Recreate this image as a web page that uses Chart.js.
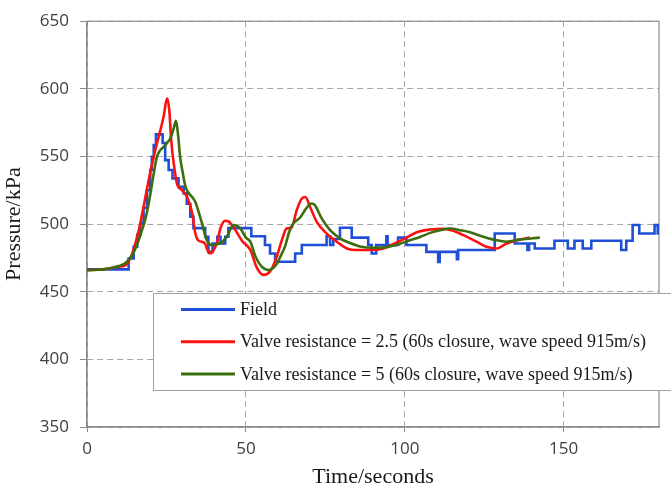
<!DOCTYPE html>
<html>
<head>
<meta charset="utf-8">
<script src="https://cdn.jsdelivr.net/npm/chart.js@4"></script>
<style>
  html, body { margin: 0; padding: 0; background: #fff; }
  #wrap { width: 671px; height: 488px; position: relative; }
</style>
</head>
<body>
<div id="wrap"><canvas id="pressureChart"></canvas></div>
<script>

// ---------------------------------------------------------------
//   data (time in s, pressure in kPa)
// ---------------------------------------------------------------

const seriesLabels = [
    'Field',
    'Valve resistance = 2.5 (60s closure, wave speed 915m/s)',
    'Valve resistance = 5 (60s closure, wave speed 915m/s)'
];

const xTicks = [0, 50, 100, 150];
const yTicks = [350, 400, 450, 500, 550, 600, 650];

// field record, each point starts a step
const fieldTime = [
    0, 13.1, 14.7, 15.8, 16.8, 17.8, 18.9, 19.9, 20.4, 21, 21.7, 23.8, 24.6, 25.7,
    26.9, 28.8, 30.4, 31.4, 32.5, 33.5, 37.2, 38.2, 39.5, 41, 42, 43.5, 44.5, 51.7,
    56, 57.6, 59.2, 65.5, 67.6, 75.4, 76.5, 77.5, 79.6, 83.3, 88.5, 89.6, 91, 94.2,
    94.6, 97.9, 100.5, 106.8, 110.5, 111, 116.4, 116.8, 128.3, 134.6, 138.6, 139.1,
    140.9, 147.1, 151.3, 153.4, 156, 158.7, 168.1, 169.7, 171.7, 173.8, 178.6, 179.6, 180
];
const fieldPressure = [
    466.5, 474.6, 483.3, 492, 500.5, 512, 525, 540, 549.7, 558.4, 566.3, 560, 547.3, 540,
    533.8, 527.6, 522.7, 515, 505.4, 497, 490.6, 479.5, 485.7, 490.6, 485.7, 490.6, 497, 491,
    484.5, 478.3, 472.2, 478.3, 484.5, 491, 484.5, 489, 497.3, 490, 484.5, 478.3, 484.5, 491,
    484.5, 490, 484.5, 479.5, 472, 479.5, 474, 480.8, 493, 485.7, 480.8, 485.7,
    482, 487.7, 482, 487.7, 482, 487.7, 480.8, 487.7, 499.3, 493, 499.3, 493, 493
];

// model, valve resistance 2.5
const r25Time = [
    0, 5, 10, 12.3, 14.2, 16.3, 17.8, 19.4, 21, 22, 23.1, 24.1, 25.2, 25.9, 26.5,
    27.3, 28.3, 29.9, 31.5, 33.1, 34.1, 35, 37, 38.5, 39.5, 41, 42, 43.5, 44.5, 46,
    49, 51.4, 53.4, 55.5, 57.6, 59.7, 61.3, 62.8, 64.4, 66, 67.6, 68.7, 70.2, 72.3,
    75.4, 78.6, 81.8, 84.9, 89.1, 93.3, 97.5, 100.6, 103.8, 108, 112.2, 115.3, 118.4,
    122.6, 125.7, 128.9, 132, 136.2, 139.3
];
const r25Pressure = [
    466, 466.5, 468.5, 470, 478, 495.6, 512.8, 532.5, 549.7, 559.6, 569.5, 579.3, 593, 584, 562,
    544.8, 530, 525, 520, 508, 493, 488, 486, 478.5, 479.5, 487, 497, 502.5, 502, 498,
    487, 481, 468, 462.5, 465, 475.8, 488, 496.7, 497.5, 510.3, 518.9, 520, 512.7, 501.6,
    493, 487, 482, 480.8, 480.8, 482, 486.5, 490, 494, 496, 496.5, 495, 491.8,
    487, 483.3, 482, 485.7, 488.6, 490
];

// model, valve resistance 5
const r5Time = [
    0, 5, 10, 12, 14.2, 15.8, 17.3, 18.4, 19.4, 20.2, 21, 22, 23, 24.1, 25.2, 26.2,
    27.2, 28, 28.7, 29.3, 30.2, 31, 32, 33.1, 34.1, 35, 36.2, 37.7, 39.3, 41.9, 44,
    46.1, 48.2, 50, 51.4, 53, 55, 57.1, 59.7, 60.8, 62.3, 63.6, 64.9, 67, 69.1, 70.7,
    71.7, 73.9, 76.5, 79.6, 82.8, 85.9, 90.1, 94.3, 98.5, 101.6, 104.8, 108, 111.1,
    114.2, 117.4, 120.5, 124.7, 128.9, 132, 136.2, 142.5
];
const r5Pressure = [
    466, 466.5, 469, 471, 477, 485, 495.6, 504, 515, 526, 537.4, 549.7, 554.5, 557, 560, 563.3,
    570, 576.3, 565, 549.7, 537, 527.6, 523, 520, 516.4, 510, 500.5, 488, 484.5, 485.7, 490.6,
    499.3, 497, 490, 487, 476, 468.5, 466, 470.5, 475.8, 483.3, 494, 500.5, 504.7, 512, 515.2,
    514, 504, 495.5, 489.4, 486, 483.5, 482.5, 483, 485.5, 488, 490.5, 493.5, 495.5,
    496.8, 495.5, 494, 490.7, 488, 487, 488.5, 490
];

const seriesColors = ['#1f4fd6', '#ff1010', '#3b6e0c'];

// ---------------------------------------------------------------

function toPoints(xs, ys) {
    return xs.map((x, i) => ({ x: x, y: ys[i] }));
}

const tickFont = { family: '"Open Sans", "Liberation Sans", sans-serif', size: 17 };
const serifFamily = '"Liberation Serif", "DejaVu Serif", serif';
const gridGray = '#a6a6a6';

// solid box round the plot area
const plotFrame = {
    id: 'plotFrame',
    beforeDatasetsDraw(chart) {
        const { ctx, chartArea } = chart;
        ctx.save();
        ctx.strokeStyle = '#8c8c8c';
        ctx.lineWidth = 1.2;
        ctx.strokeRect(chartArea.left, chartArea.top,
            chartArea.right - chartArea.left, chartArea.bottom - chartArea.top);
        ctx.restore();
    }
};

// boxed legend sitting over the lower part of the plot
const boxLegend = {
    id: 'boxLegend',
    afterDraw(chart) {
        const ctx = chart.ctx;
        const box = { left: 153.5, top: 293.5, right: 675, bottom: 390.5 };
        ctx.save();
        ctx.fillStyle = '#ffffff';
        ctx.fillRect(box.left, box.top, box.right - box.left, box.bottom - box.top);
        ctx.strokeStyle = '#a0a0a0';
        ctx.lineWidth = 1;
        ctx.strokeRect(box.left, box.top, box.right - box.left, box.bottom - box.top);

        ctx.font = '18px ' + serifFamily;
        ctx.textBaseline = 'middle';
        ctx.fillStyle = '#1a1a1a';
        chart.data.datasets.forEach((ds, i) => {
            const y = 309.5 + i * 32.2;
            ctx.strokeStyle = ds.borderColor;
            ctx.lineWidth = 3;
            ctx.beginPath();
            ctx.moveTo(181, y);
            ctx.lineTo(235, y);
            ctx.stroke();
            ctx.fillText(ds.label, 240, y + 1);
        });
        ctx.restore();
    }
};

const ctx = document.getElementById('pressureChart').getContext('2d');

const chartData = {
    datasets: [
        {
            label: seriesLabels[0],
            data: toPoints(fieldTime, fieldPressure),
            borderColor: seriesColors[0],
            borderWidth: 2.6,
            stepped: true,
            pointRadius: 0,
            order: 2
        },
        {
            label: seriesLabels[1],
            data: toPoints(r25Time, r25Pressure),
            borderColor: seriesColors[1],
            borderWidth: 2.6,
            cubicInterpolationMode: 'monotone',
            pointRadius: 0,
            order: 1
        },
        {
            label: seriesLabels[2],
            data: toPoints(r5Time, r5Pressure),
            borderColor: seriesColors[2],
            borderWidth: 2.6,
            cubicInterpolationMode: 'monotone',
            pointRadius: 0,
            order: 0
        }
    ]
};

const options = {
    responsive: true,
    maintainAspectRatio: false,
    animation: false,
    layout: { padding: { top: 21, right: 12, left: 0, bottom: 0 } },
    plugins: {
        legend: { display: false },
        tooltip: { enabled: false }
    },
    scales: {
        x: {
            type: 'linear',
            min: 0,
            max: 180,
            afterFit: (scale) => { scale.height = 61; },
            afterBuildTicks: (scale) => { scale.ticks = xTicks.map(v => ({ value: v })); },
            ticks: {
                font: tickFont,
                color: '#404040',
                padding: 7,
                maxRotation: 0
            },
            grid: {
                color: gridGray,
                lineWidth: 1,
                tickLength: 5,
                tickColor: '#8c8c8c'
            },
            border: { display: true, color: '#8c8c8c', width: 1.2, dash: [6, 4] },
            title: {
                display: true,
                text: 'Time/seconds',
                color: '#1a1a1a',
                font: { family: serifFamily, size: 22, lineHeight: 1 },
                padding: { top: 0, bottom: 0 }
            }
        },
        y: {
            type: 'linear',
            min: 350,
            max: 650,
            afterFit: (scale) => { scale.width = 87; },
            afterBuildTicks: (scale) => { scale.ticks = yTicks.map(v => ({ value: v })); },
            ticks: {
                font: tickFont,
                color: '#404040',
                padding: 11
            },
            grid: {
                color: gridGray,
                lineWidth: 1,
                tickLength: 7,
                tickColor: '#8c8c8c'
            },
            border: { display: true, color: '#8c8c8c', width: 1.2, dash: [6, 4] },
            title: {
                display: true,
                text: 'Pressure/kPa',
                color: '#1a1a1a',
                font: { family: serifFamily, size: 22, lineHeight: 1.2 },
                padding: { top: 1, bottom: 0 }
            }
        }
    }
};

window.pressureChart = new Chart(ctx, {
    type: 'line',
    data: chartData,
    options: options,
    plugins: [plotFrame, boxLegend]
});

</script>
</body>
</html>
